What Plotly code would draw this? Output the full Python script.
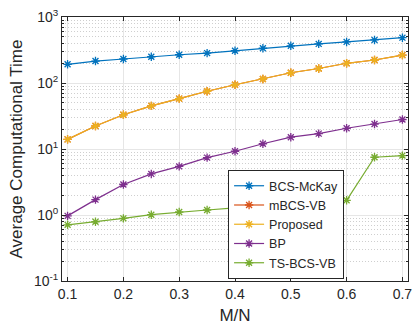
import plotly.graph_objects as go

mn = [0.1, 0.15, 0.2, 0.25, 0.3, 0.35, 0.4, 0.45, 0.5, 0.55, 0.6, 0.65, 0.7]
bcs_mckay = [192, 215, 231, 250, 268, 284, 308, 336, 366, 391, 419, 449, 486]
mbcs_vb = [14.0, 22.3, 33, 45, 58, 75, 94, 115, 143, 166, 199, 223, 265]
proposed = [14.0, 22.3, 33, 45, 58, 75, 94, 115, 143, 166, 199, 223, 265]
bp = [0.97, 1.71, 2.9, 4.19, 5.45, 7.4, 9.25, 12.0, 15.1, 17.1, 20.6, 23.9, 28.0]
ts_bcs_vb = [0.71, 0.79, 0.89, 1.01, 1.11, 1.19, 1.28, 1.37, 1.45, 1.55, 1.67, 7.5, 7.95]

x_ticks = [0.1, 0.2, 0.3, 0.4, 0.5, 0.6, 0.7]
x_labels = ["0.1", "0.2", "0.3", "0.4", "0.5", "0.6", "0.7"]
y_ticks = [0.1, 1, 10, 100, 1000]
y_labels = ["10<sup>-1</sup>", "10<sup>0</sup>", "10<sup>1</sup>", "10<sup>2</sup>", "10<sup>3</sup>"]

names = ["BCS-McKay", "mBCS-VB", "Proposed", "BP", "TS-BCS-VB"]
series = [bcs_mckay, mbcs_vb, proposed, bp, ts_bcs_vb]
colors = ["#0072BD", "#D95319", "#EDB120", "#7E2F8E", "#77AC30"]

fig = go.Figure()
for n, s, c in zip(names, series, colors):
    fig.add_trace(go.Scatter(
        x=mn, y=s, name=n, mode="lines+markers",
        line=dict(color=c, width=1.2),
        marker=dict(symbol="asterisk-open", size=7, color=c, line=dict(color=c, width=1.3)),
    ))

axcol = "#262626"
fig.update_layout(
    width=419, height=329,
    margin=dict(l=62, r=7, t=14, b=47),
    paper_bgcolor="white", plot_bgcolor="white",
    font=dict(family="Liberation Sans, Arial, sans-serif", size=14, color=axcol),
    showlegend=True,
    legend=dict(x=0.48, y=0.42, xanchor="left", yanchor="top",
                bordercolor=axcol, borderwidth=1, bgcolor="white",
                font=dict(size=12.5), tracegroupgap=0, itemwidth=30),
)
fig.update_xaxes(
    range=[0.09, 0.71], tickvals=x_ticks, ticktext=x_labels,
    showline=True, linecolor=axcol, linewidth=1, mirror="ticks",
    ticks="inside", ticklen=4, tickcolor=axcol,
    showgrid=True, gridcolor="#e6e6e6", gridwidth=1, zeroline=False,
    title=dict(text="M/N", standoff=8),
)
fig.update_yaxes(
    type="log", range=[-1, 3], tickvals=y_ticks, ticktext=y_labels,
    showline=True, linecolor=axcol, linewidth=1, mirror="ticks",
    ticks="inside", ticklen=4, tickcolor=axcol,
    showgrid=True, gridcolor="#e6e6e6", gridwidth=1, zeroline=False,
    minor=dict(dtick="D1", ticks="inside", ticklen=2, tickcolor=axcol,
               showgrid=True, gridcolor="#cfcfcf", griddash="1px,2px", gridwidth=1),
    title=dict(text="Average Computational Time", standoff=6),
)
fig.write_html("out.html", config={"displayModeBar": False},
               post_script="document.body.style.margin='0';")
